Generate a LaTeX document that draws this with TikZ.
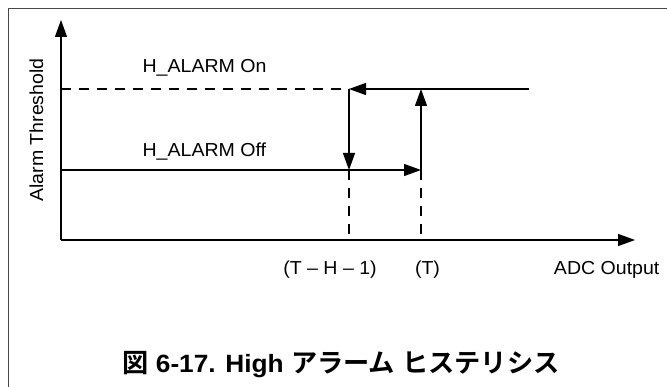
\documentclass[tikz,border=0pt]{standalone}
\usepackage{fontspec}
\setmainfont{Liberation Sans}
\newfontfamily\labfont[FakeStretch=1.04]{Liberation Sans}
\newfontfamily\capfont[FakeStretch=1.05]{Liberation Sans Bold}
\newfontfamily\cjk{Noto Sans CJK JP Bold}
\usetikzlibrary{arrows.meta}
\begin{document}
\begin{tikzpicture}[x=1pt,y=-1pt,
  line width=1.2pt,
  tip/.style={-{Triangle[length=17pt,width=12pt]}},
  dashline/.style={dash pattern=on 10pt off 8pt},
  lab/.style={inner sep=0pt,font=\labfont\fontsize{18.8}{21}\selectfont},
  cjkcap/.style={},
  frameline/.style={line width=1.6pt,color=black!72}]
\useasboundingbox (0,0) rectangle (667,387);
\draw[frameline] (8.5,387) -- (8.5,8.5) -- (667,8.5);
% coordinates
\coordinate (O) at (61,240);
\coordinate (ytip) at (61,20);
\coordinate (xtip) at (635,240);
\coordinate (onL) at (61,89);
\coordinate (onA) at (349,89);
\coordinate (onB) at (421,89);
\coordinate (onR) at (529,89);
\coordinate (offL) at (61,170);
\coordinate (offA) at (349,170);
\coordinate (offB) at (421,170);
\coordinate (baseA) at (349,240);
\coordinate (baseB) at (421,240);
% axes
\draw[tip] (O) -- (ytip);
\draw[tip] (O) -- (xtip);
% hysteresis
\draw[dashline] (onL) -- (onA);
\draw[tip] (onR) -- (onA);
\draw[tip] (onA) -- (offA);
\draw[tip] (offL) -- (offB);
\draw[tip] (offB) -- (onB);
\draw[dashline] (offA) -- (baseA);
\draw[dashline] (offB) -- (baseB);
% labels
\node[lab,anchor=base west] (lon) at (142,73) {H\_ALARM On};
\node[lab,anchor=base west] (loff) at (142,157) {H\_ALARM Off};
\node[lab,anchor=base] (lth) at (330,275) {(T – H – 1)};
\node[lab,anchor=base] (lt) at (427.5,275) {(T)};
\node[lab,anchor=base east] (ladc) at (660,275) {ADC Output};
\node[lab,anchor=base,rotate=90] (lyax) at (43,130) {Alarm Threshold};
\node[inner sep=0pt,anchor=base,font=\capfont\fontsize{25}{29}\selectfont] (cap) at (341,373)
  {{\cjk\fontsize{26.2}{29}\selectfont 図} 6-17. High {\cjk\fontsize{26.2}{29}\selectfont アラーム} {\cjk\fontsize{26.2}{29}\selectfont ヒステリシス}};
\end{tikzpicture}
\end{document}
